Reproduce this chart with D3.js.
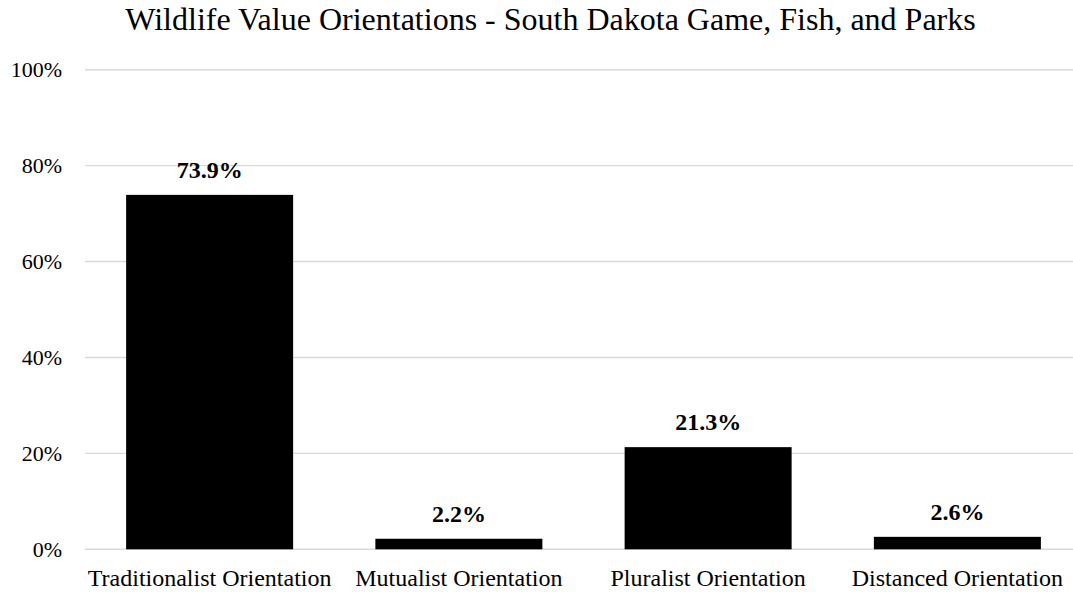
<!DOCTYPE html>
<html>
<head>
<meta charset="utf-8">
<script src="https://cdn.jsdelivr.net/npm/d3@7"></script>
<style>
  html, body { margin: 0; padding: 0; background: #fff; }
  svg { display: block; }
  text { font-family: "Liberation Serif", "Times New Roman", serif; fill: #000; }
</style>
</head>
<body>
<svg id="chart" width="1073" height="592"></svg>
<script>
const title = "Wildlife Value Orientations - South Dakota Game, Fish, and Parks";
const categories = ["Traditionalist Orientation", "Mutualist Orientation", "Pluralist Orientation", "Distanced Orientation"];
const values = [0.739, 0.022, 0.213, 0.026];
const valueLabels = ["73.9%", "2.2%", "21.3%", "2.6%"];
const yTicks = [0, 0.2, 0.4, 0.6, 0.8, 1.0];

const svg = d3.select("#chart");
const W = 1073, H = 592;
svg.append("rect").attr("width", W).attr("height", H).attr("fill", "#fff");

const x = d3.scaleBand().domain(categories).range([85, 1082]).paddingInner(0.33).paddingOuter(0.165);
const y = d3.scaleLinear().domain([0, 1]).range([549.3, 69.7]);

// gridlines
svg.append("g").selectAll("line").data(yTicks).join("line")
  .attr("x1", 85).attr("x2", 1082)
  .attr("y1", d => y(d)).attr("y2", d => y(d))
  .attr("stroke", "#d9d9d9").attr("stroke-width", 1.4);

// y axis labels
const yAxis = d3.axisLeft(y).tickValues(yTicks).tickFormat(d3.format(".0%")).tickSize(0).tickPadding(0);
const yg = svg.append("g").attr("transform", "translate(62,0)").call(yAxis);
yg.select(".domain").remove();
yg.selectAll("text").attr("font-size", 22).attr("font-family", "Liberation Serif").attr("fill", "#000");

// bars
svg.append("g").selectAll("rect").data(categories).join("rect")
  .attr("x", d => x(d))
  .attr("width", x.bandwidth())
  .attr("y", (d, i) => y(values[i]))
  .attr("height", (d, i) => y(0) - y(values[i]))
  .attr("fill", "#000");

// value labels
svg.append("g").selectAll("text").data(categories).join("text")
  .attr("x", d => x(d) + x.bandwidth() / 2)
  .attr("y", (d, i) => y(values[i]) - 17)
  .attr("text-anchor", "middle")
  .attr("font-size", 24)
  .attr("font-weight", "bold")
  .text((d, i) => valueLabels[i]);

// x axis labels
const xAxis = d3.axisBottom(x).tickSize(0).tickPadding(0);
const xg = svg.append("g").attr("transform", "translate(0,567)").call(xAxis);
xg.select(".domain").remove();
xg.selectAll("text").attr("font-size", 24).attr("font-family", "Liberation Serif").attr("fill", "#000")
  .attr("dy", "0.79em");

// title
svg.append("text")
  .attr("x", 550.5).attr("y", 29.5)
  .attr("text-anchor", "middle")
  .attr("font-size", 32)
  .text(title);
</script>
</body>
</html>
